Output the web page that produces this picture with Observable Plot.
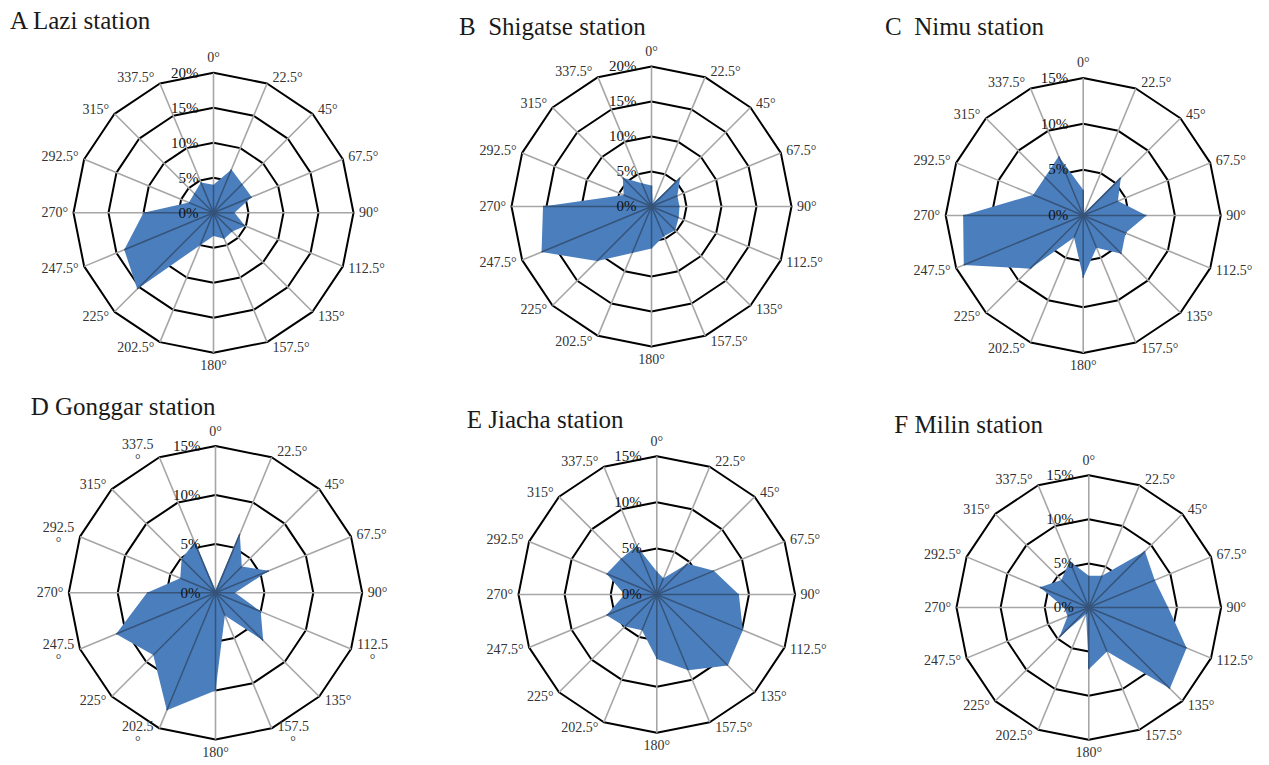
<!DOCTYPE html>
<html>
<head>
<meta charset="utf-8">
<script src="https://cdn.jsdelivr.net/npm/d3@7"></script>
<script src="https://cdn.jsdelivr.net/npm/@observablehq/plot@0.6"></script>
<style>
  html, body { margin: 0; padding: 0; background: #fff; }
  #page { position: relative; width: 1269px; height: 765px; overflow: hidden; background: #fff; }
  .panel { position: absolute; }
  .title { position: absolute; font-family: "Liberation Serif", "DejaVu Serif", serif; font-size: 25px; line-height: 1; color: #1a1a1a; white-space: pre; }
  .panel svg text { font-family: "Liberation Serif", "DejaVu Serif", serif; }
</style>
</head>
<body>
<div id="page"></div>
<script>
// ---------- data ----------
const angles = [0, 22.5, 45, 67.5, 90, 112.5, 135, 157.5, 180, 202.5, 225, 247.5, 270, 292.5, 315, 337.5];
const angleLabels = ["0°", "22.5°", "45°", "67.5°", "90°", "112.5°", "135°", "157.5°", "180°", "202.5°", "225°", "247.5°", "270°", "292.5°", "315°", "337.5°"];
const angleLabelsD = ["0°", "22.5°", "45°", "67.5°", "90°", "112.5\n°", "135°", "157.5\n°", "180°", "202.5\n°", "225°", "247.5\n°", "270°", "292.5\n°", "315°", "337.5\n°"];
const titles = ["A Lazi station", "B  Shigatse station", "C  Nimu station", "D Gonggar station", "E Jiacha station", "F Milin station"];
const ticks20 = [0, 5, 10, 15, 20];
const ticks15 = [0, 5, 10, 15];
const lazi     = [4.0, 6.7, 5.8, 5.9, 3.0, 4.9, 3.8, 4.0, 3.3, 5.0, 15.4, 13.8, 10.0, 3.8, 3.9, 4.7];
const shigatse = [3.0, 0.5, 5.8, 4.0, 4.0, 4.2, 4.8, 4.6, 6.0, 7.2, 11.0, 17.0, 15.5, 4.3, 5.8, 3.6];
const nimu     = [2.8, 0.3, 5.8, 4.1, 6.9, 5.0, 5.9, 3.8, 6.8, 2.6, 8.2, 14.1, 13.1, 5.9, 5.9, 7.0];
const gonggar  = [0.3, 6.5, 3.8, 5.9, 2.0, 5.0, 6.9, 2.5, 10.0, 13.0, 9.0, 11.0, 7.0, 3.9, 4.9, 5.6];
const jiacha   = [2.5, 1.9, 4.7, 6.7, 8.9, 10.1, 10.9, 8.9, 7.0, 4.2, 4.9, 5.9, 3.5, 5.9, 5.5, 5.7];
const milin    = [3.6, 3.9, 9.0, 8.1, 9.0, 12.0, 13.0, 5.4, 7.0, 0.8, 4.7, 2.6, 2.8, 6.0, 4.4, 5.7];

// ---------- layout (positions only) ----------
const layout = [
  {values: lazi,     ticks: ticks20, labels: angleLabels,  left: 0,   top: 0,   cx: 213,   cy: 212.3, R: 140,   tx: 10,    ty: 8.3},
  {values: shigatse, ticks: ticks20, labels: angleLabels,  left: 423, top: 0,   cx: 228,   cy: 206,   R: 140,   tx: 459,   ty: 14},
  {values: nimu,     ticks: ticks15, labels: angleLabels,  left: 846, top: 0,   cx: 236.7, cy: 215,   R: 137.5, tx: 885,   ty: 14},
  {values: gonggar,  ticks: ticks15, labels: angleLabelsD, left: 0,   top: 383, cx: 215,   cy: 209.3, R: 146.7, tx: 30.7,  ty: 394},
  {values: jiacha,   ticks: ticks15, labels: angleLabels,  left: 423, top: 383, cx: 233.3, cy: 211,   R: 138.3, tx: 466.7, ty: 406.7},
  {values: milin,    ticks: ticks15, labels: angleLabels,  left: 846, top: 383, cx: 242.3, cy: 224,   R: 132.3, tx: 894.3, ty: 412.3}
];

const rad = d => d * Math.PI / 180;
const page = document.getElementById("page");

layout.forEach((p, i) => {
  const M = p.ticks[p.ticks.length - 1];
  const k = p.R / M; // px per data unit
  const rings = [];
  p.ticks.filter(t => t > 0).forEach(t => angles.forEach(a => rings.push({t, a})));
  const pts = angles.map((a, j) => ({a, v: p.values[j]}));
  const lab = angles.map((a, j) => ({a, text: p.labels[j], wrap: p.labels[j].includes("\n")}));
  const s = a => Math.sin(rad(a)), c = a => Math.cos(rad(a));
  const isTop = d => d.a === 0, isBot = d => d.a === 180;
  const right = lab.filter(d => d.a > 0 && d.a < 180 && !d.wrap);
  const left = lab.filter(d => d.a > 180 && !d.wrap);
  const wrapped = lab.filter(d => d.wrap);
  const lx = (d, off) => M * s(d.a) + Math.sign(s(d.a)) * off / k;
  const ly = d => M * c(d.a) + 6 * c(d.a) / k;
  const txtStyle = {fill: "#333", fontSize: 14};

  const chart = Plot.plot({
    width: 423, height: 382, margin: 0,
    x: {type: "linear", domain: [-M, M], range: [p.cx - p.R, p.cx + p.R], axis: null},
    y: {type: "linear", domain: [-M, M], range: [p.cy + p.R, p.cy - p.R], axis: null},
    style: {fontFamily: "Liberation Serif, DejaVu Serif, serif", fontSize: "14px", background: "transparent", overflow: "visible"},
    marks: [
      Plot.line(rings, {x: d => d.t * s(d.a), y: d => d.t * c(d.a), z: "t", curve: "linear-closed", stroke: "#000", strokeWidth: 2}),
      Plot.link(angles, {x1: () => 0, y1: () => 0, x2: a => M * s(a), y2: a => M * c(a), stroke: "#a6a6a6", strokeWidth: 1.6}),
      Plot.line(pts, {x: d => d.v * s(d.a), y: d => d.v * c(d.a), curve: "linear-closed", fill: "#4a7ebd", stroke: "none"}),
      Plot.link(pts, {x1: () => 0, y1: () => 0, x2: d => d.v * s(d.a), y2: d => d.v * c(d.a), stroke: "#36547a", strokeWidth: 1.5}),
      Plot.text(p.ticks, {x: () => 0, y: t => t, text: t => t + "%", textAnchor: "end", dx: -15, fill: "#111", fontSize: 15}),
      Plot.text(lab.filter(isTop), {x: () => 0, y: () => M, text: "text", dy: -15, ...txtStyle}),
      Plot.text(lab.filter(isBot), {x: () => 0, y: () => -M, text: "text", dy: 13, ...txtStyle}),
      Plot.text(right, {x: d => lx(d, 5.5), y: ly, text: "text", textAnchor: "start", ...txtStyle}),
      Plot.text(left, {x: d => lx(d, 5.5), y: ly, text: "text", textAnchor: "end", ...txtStyle}),
      Plot.text(wrapped, {x: d => lx(d, 21.5), y: ly, text: "text", textAnchor: "middle", lineHeight: 1.07, ...txtStyle})
    ]
  });
  const wrap = document.createElement("div");
  wrap.className = "panel";
  wrap.style.left = p.left + "px";
  wrap.style.top = p.top + "px";
  wrap.appendChild(chart);
  page.appendChild(wrap);

  const t = document.createElement("div");
  t.className = "title";
  t.style.left = p.tx + "px";
  t.style.top = p.ty + "px";
  t.textContent = titles[i];
  page.appendChild(t);
});
</script>
</body>
</html>
